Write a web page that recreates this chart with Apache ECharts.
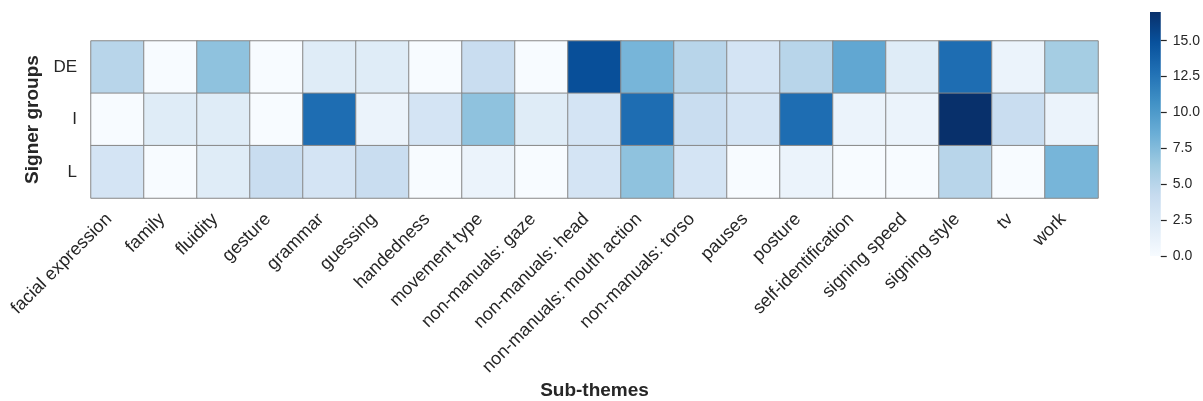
<!DOCTYPE html>
<html>
<head>
<meta charset="utf-8">
<script src="https://cdn.jsdelivr.net/npm/echarts@6/dist/echarts.min.js"></script>
<style>html,body{margin:0;padding:0;background:#fff}#c{width:1203px;height:401px}</style>
</head>
<body>
<div id="c"></div>
<script>
const subThemes = ['facial expression','family','fluidity','gesture','grammar','guessing','handedness','movement type','non-manuals: gaze','non-manuals: head','non-manuals: mouth action','non-manuals: torso','pauses','posture','self-identification','signing speed','signing style','tv','work'];
const groups = ['DE','I','L'];
const valuesDE = [5,0,7,0,2,2,0,4,0,15,8,5,3,5,9,2,13,1,6];
const valuesI  = [0,2,2,0,13,1,3,7,2,3,13,4,3,13,1,1,17,4,1];
const valuesL  = [3,0,2,4,3,4,0,1,0,3,7,3,0,1,0,0,5,0,8];
const colorbarTicks = [0,2.5,5,7.5,10,12.5,15];
const vmax = 17;
const blues = ['#f7fbff','#deebf7','#c6dbef','#9ecae1','#6baed6','#4292c6','#2171b5','#08519c','#08306b'];

const rows = [valuesDE, valuesI, valuesL];
const data = [];
rows.forEach((r, yi) => r.forEach((v, xi) => data.push([xi, yi, v])));

const font = 'Liberation Sans, Arial, Helvetica, sans-serif';
const txt = '#262626';

const chart = echarts.init(document.getElementById('c'));
chart.setOption({
  animation: false,
  textStyle: {fontFamily: font},
  grid: [
    {left: 91, right: 105, top: 41, height: 159},
    {left: 1150, width: 11, top: 12, height: 244}
  ],
  xAxis: [
    {type: 'category', data: subThemes, gridIndex: 0,
     axisLine: {show: false}, axisTick: {show: false}, splitLine: {show: false},
     axisLabel: {rotate: 45, fontSize: 18, color: txt, fontFamily: font, interval: 0, margin: 10,
       padding: [0, 12, 0, 0]},
     name: 'Sub-themes', nameLocation: 'middle', nameGap: 183,
     nameTextStyle: {fontSize: 19, fontWeight: 'bold', color: txt, fontFamily: font}},
    {type: 'category', data: ['c'], gridIndex: 1, show: false}
  ],
  yAxis: [
    {type: 'category', data: groups, inverse: true, gridIndex: 0,
     axisLine: {show: false}, axisTick: {show: false}, splitLine: {show: false},
     axisLabel: {fontSize: 17, color: txt, fontFamily: font, margin: 14},
     name: 'Signer groups', nameLocation: 'middle', nameGap: 38,
     nameTextStyle: {fontSize: 19, fontWeight: 'bold', color: txt, fontFamily: font}},
    {type: 'value', gridIndex: 1, min: 0, max: vmax, position: 'right',
     axisLine: {show: false}, splitLine: {show: false},
     axisTick: {show: true, length: 6, customValues: colorbarTicks, lineStyle: {color: txt, width: 1.2}},
     axisLabel: {fontSize: 14, color: txt, fontFamily: font, margin: 12, customValues: colorbarTicks,
       formatter: v => Number(v).toFixed(1)}}
  ],
  visualMap: {show: false, min: 0, max: vmax, seriesIndex: 0, dimension: 2,
    inRange: {color: blues}},
  series: [
    {type: 'heatmap', data: data, xAxisIndex: 0, yAxisIndex: 0,
     itemStyle: {borderColor: '#888888', borderWidth: 1},
     emphasis: {disabled: true}},
    {type: 'bar', xAxisIndex: 1, yAxisIndex: 1, data: [vmax], barWidth: '100%',
     itemStyle: {color: new echarts.graphic.LinearGradient(0, 1, 0, 0,
       blues.map((c, i) => ({offset: i / (blues.length - 1), color: c})))},
     silent: true}
  ]
});
</script>
</body>
</html>
